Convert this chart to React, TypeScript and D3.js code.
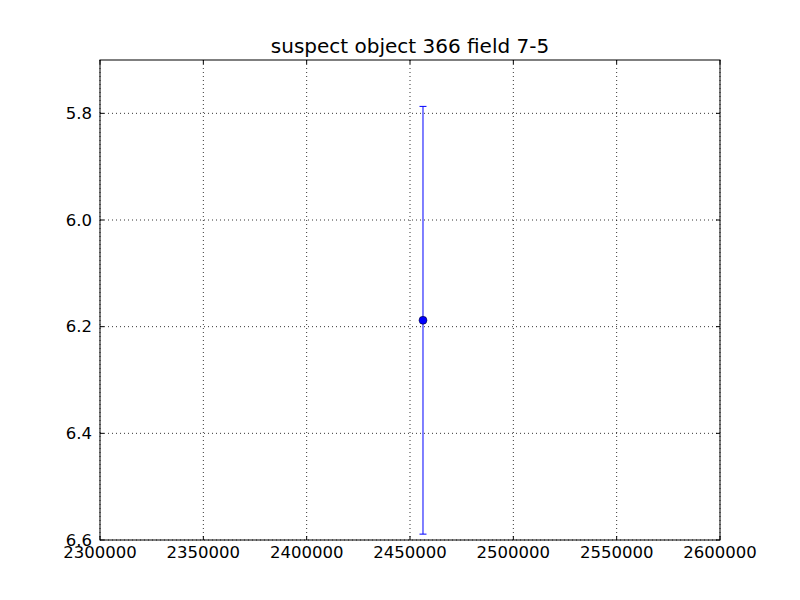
import React from "react";
import * as d3 from "d3";

const xTicks = [2300000, 2350000, 2400000, 2450000, 2500000, 2550000, 2600000];
const yTicks = [5.8, 6.0, 6.2, 6.4, 6.6];
const pointsX = [2456290];
const pointsY = [6.188];
const pointsErr = [0.401];
const title = "suspect object 366 field 7-5";

export default function App() {
  const W = 800, H = 600;
  const L = 100, R = 720, T = 60, B = 540;
  const x = d3.scaleLinear().domain([2300000, 2600000]).range([L, R]);
  const y = d3.scaleLinear().domain([5.7, 6.6]).range([T, B]);
  const font = "DejaVu Sans, sans-serif";
  const tl = 4;
  return (
    <svg width={W} height={H} style={{ position: "absolute", left: 0, top: 0, background: "#fff" }}>
      <rect x={0} y={0} width={W} height={H} fill="#fff" />
      {xTicks.map((t) => (
        <line key={"gx" + t} x1={x(t)} x2={x(t)} y1={T} y2={B} stroke="#000" strokeWidth={0.8} strokeDasharray="1,3" />
      ))}
      {yTicks.map((t) => (
        <line key={"gy" + t} x1={L} x2={R} y1={y(t)} y2={y(t)} stroke="#000" strokeWidth={0.8} strokeDasharray="1,3" />
      ))}
      {xTicks.map((t) => (
        <g key={"tx" + t}>
          <line x1={x(t)} x2={x(t)} y1={B} y2={B - tl} stroke="#000" />
          <line x1={x(t)} x2={x(t)} y1={T} y2={T + tl} stroke="#000" />
          <text x={x(t)} y={B + 18} textAnchor="middle" fontFamily={font} fontSize={16.5} fill="#000">{t}</text>
        </g>
      ))}
      {yTicks.map((t) => (
        <g key={"ty" + t}>
          <line x1={L} x2={L + tl} y1={y(t)} y2={y(t)} stroke="#000" />
          <line x1={R} x2={R - tl} y1={y(t)} y2={y(t)} stroke="#000" />
          <text x={L - 8} y={y(t)} dy="0.35em" textAnchor="end" fontFamily={font} fontSize={16.5} fill="#000">{t.toFixed(1)}</text>
        </g>
      ))}
      {pointsX.map((px, i) => {
        const cx = x(px);
        const y0 = y(pointsY[i] - pointsErr[i]);
        const y1 = y(pointsY[i] + pointsErr[i]);
        return (
          <g key={"p" + i}>
            <line x1={cx} x2={cx} y1={y0} y2={y1} stroke="#0000ff" strokeWidth={1} />
            <line x1={cx - 3.5} x2={cx + 3.5} y1={y0} y2={y0} stroke="#0000ff" strokeWidth={1} />
            <line x1={cx - 3.5} x2={cx + 3.5} y1={y1} y2={y1} stroke="#0000ff" strokeWidth={1} />
            <circle cx={cx} cy={y(pointsY[i])} r={4} fill="#0000ff" stroke="#000" strokeWidth={0.5} />
          </g>
        );
      })}
      <rect x={L} y={T} width={R - L} height={B - T} fill="none" stroke="#000" strokeWidth={1} />
      <text x={(L + R) / 2} y={T - 7} textAnchor="middle" fontFamily={font} fontSize={20} fill="#000">{title}</text>
    </svg>
  );
}
